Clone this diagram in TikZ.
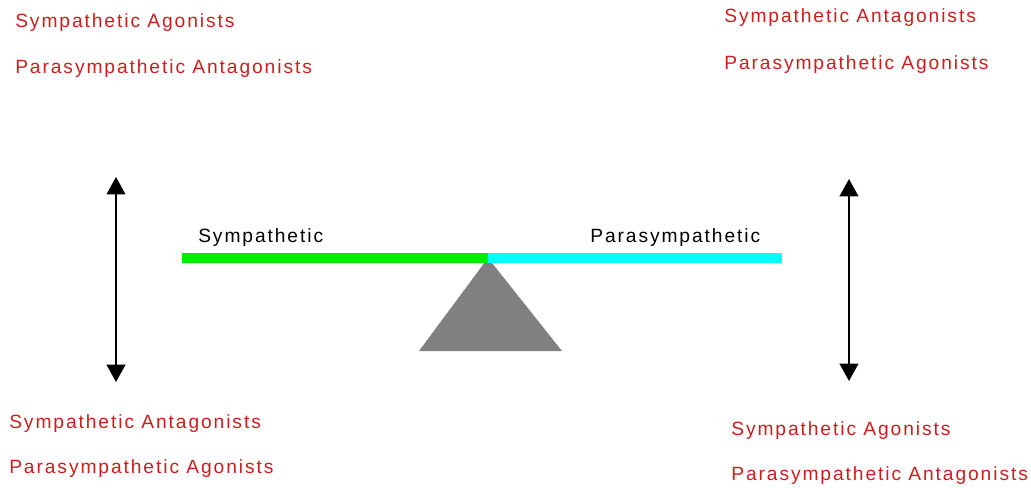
\documentclass[tikz,border=0pt]{standalone}
\usepackage{fontspec}
\setmainfont{Liberation Sans}[LetterSpace=10]
\usetikzlibrary{arrows.meta}
\definecolor{txtred}{RGB}{205,30,30}
\definecolor{barGreen}{RGB}{0,235,0}
\definecolor{barCyan}{RGB}{0,255,255}
\definecolor{pivotGray}{RGB}{128,128,128}
\tikzset{
  drug/.style={anchor=base west, inner sep=0pt, text=txtred, font=\fontsize{14.4pt}{16pt}\selectfont},
  side/.style={anchor=base west, inner sep=0pt, text=black, font=\fontsize{14.4pt}{16pt}\selectfont},
  updown/.style={line width=1.5pt, {Triangle[width=14pt,length=13pt]}-{Triangle[width=14pt,length=13pt]}},
}
\begin{document}
\begin{tikzpicture}[x=0.75pt,y=-0.75pt]
\useasboundingbox (0,0) rectangle (1031,487);
% texts
\node[drug] (tl1) at (15,27) {Sympathetic Agonists};
\node[drug] (tl2) at (15,73) {Parasympathetic Antagonists};
\node[drug] (tr1) at (724,22) {Sympathetic Antagonists};
\node[drug] (tr2) at (724,69) {Parasympathetic Agonists};
\node[drug] (bl1) at (9,428) {Sympathetic Antagonists};
\node[drug] (bl2) at (9,473) {Parasympathetic Agonists};
\node[drug] (br1) at (731,435) {Sympathetic Agonists};
\node[drug] (br2) at (731,480) {Parasympathetic Antagonists};
% seesaw
\coordinate (gl) at (182,258);
\coordinate (mid) at (488,258);
\coordinate (cr) at (782,258);
\fill[pivotGray] (488,258) -- (562,351) -- (419,351) -- cycle;
\draw[barGreen, line width=7.5pt] (gl) -- (mid);
\draw[barCyan, line width=7.5pt] (mid) -- (cr);
\node[side] (symp) at (198,242) {Sympathetic};
\node[side] (para) at (590,242) {Parasympathetic};
% arrows
\coordinate (la) at (116,177);
\coordinate (lb) at (116,382);
\coordinate (ra) at (849,179);
\coordinate (rb) at (849,381);
\draw[updown] (la) -- (lb);
\draw[updown] (ra) -- (rb);
\end{tikzpicture}
\end{document}
